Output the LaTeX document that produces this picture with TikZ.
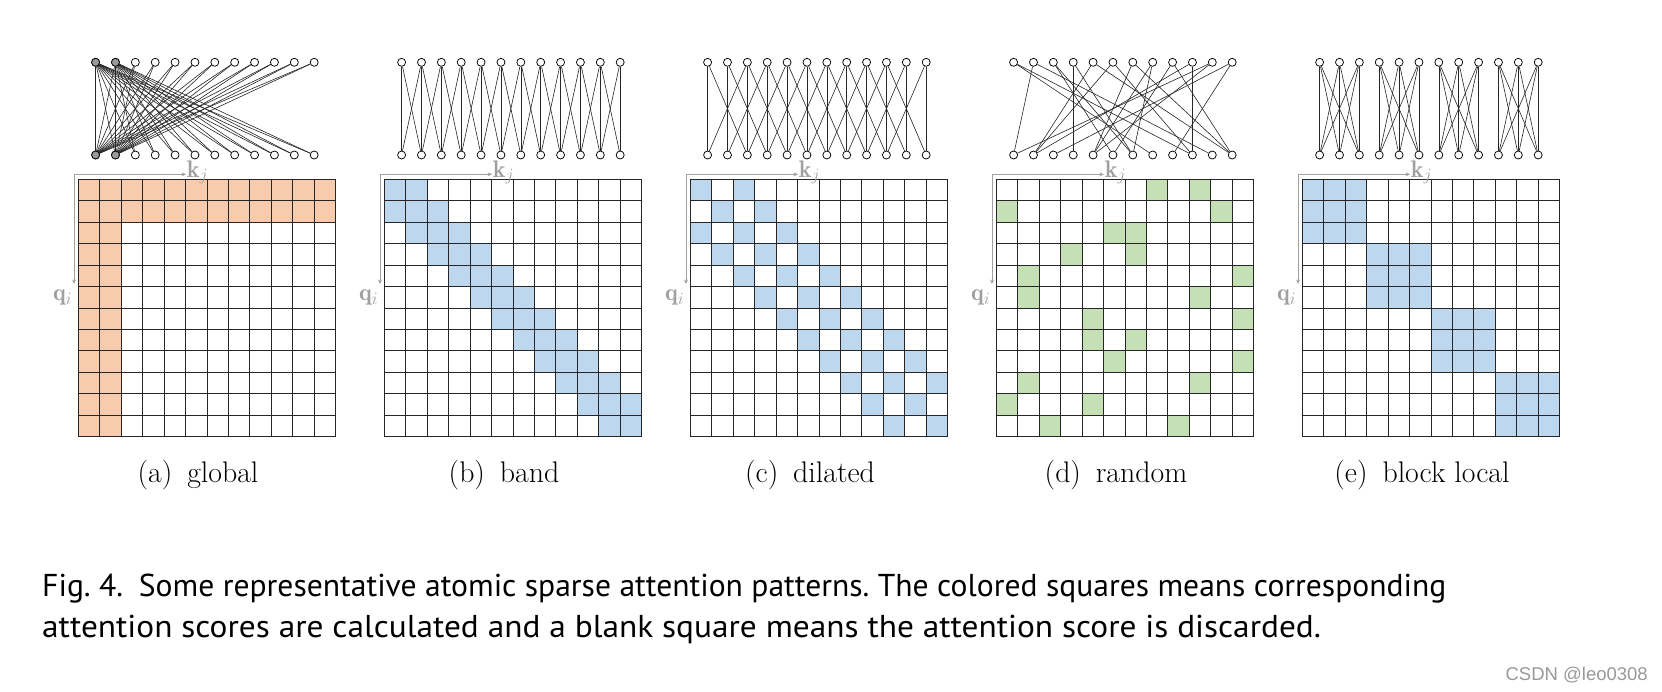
\documentclass[tikz,border=0pt]{standalone}
\usepackage{fontspec}
\newfontfamily\capfont{PT Sans}
\newfontfamily\wmfont{Liberation Sans}
\usetikzlibrary{arrows.meta}
\definecolor{gorange}{HTML}{F8CBAD}
\definecolor{gblue}{HTML}{BDD7EE}
\definecolor{ggreen}{HTML}{C5E0B4}
\definecolor{axgray}{HTML}{A0A0A0}
\definecolor{gnode}{HTML}{9A9A9A}
\def\cs{21.45}
\def\gy{179.3}
\def\ns{19.87}
\tikzset{
  tok/.style={circle,draw=black,fill=white,line width=0.75pt,minimum size=8pt,inner sep=0pt},
  gtok/.style={tok,fill=gnode},
  edge/.style={line width=0.6pt,black!85},
  gline/.style={line width=0.9pt,black!85},
  axis/.style={line width=0.85pt,axgray,-{Stealth[length=4.5pt,width=4pt]}},
  axlab/.style={text=axgray,inner sep=0pt,font=\fontsize{24}{28}\selectfont},
  sublab/.style={inner sep=0pt,font=\fontsize{29.8}{34}\selectfont},
  caplab/.style={inner sep=0pt,font=\capfont\fontsize{31.6}{37}\selectfont\frenchspacing},
}
\newcommand\mknodes[2]{% name, x0
  \foreach \k in {1,...,12}{
    \node[tok] (#1t\k) at ({#2+17.3+(\k-1)*\ns},62.3) {};
    \node[tok] (#1b\k) at ({#2+17.3+(\k-1)*\ns},155) {};
  }
}
\newcommand\cellfill[4]{% x0,i,j,color
  \fill[#4] ({#1+(#3-1)*\cs},{\gy+(#2-1)*\cs}) rectangle ++(\cs,\cs);
}
\newcommand\link[3]{\draw[edge] (#1t#2) -- (#1b#3);}
\newcommand\mkgrid[3]{% name, x0, caption
  \foreach \k in {0,...,12}{
    \draw[gline] ({#2+\k*\cs},\gy) -- ({#2+\k*\cs},{\gy+12*\cs});
    \draw[gline] (#2,{\gy+\k*\cs}) -- ({#2+12*\cs},{\gy+\k*\cs});
  }
  \coordinate (#1o) at ({#2-4.3},174.3);
  \coordinate (#1kx) at ({#2+107.7},174.3);
  \coordinate (#1qy) at ({#2-4.3},284);
  \draw[axis] (#1o) -- (#1kx);
  \draw[axis] (#1o) -- (#1qy);
  \node[axlab,anchor=base west] (#1kl) at ({#2+108.4},177) {$\mathbf{k}_j$};
  \node[axlab,anchor=base east] (#1ql) at ({#2-6},300.5) {$\mathbf{q}_i$};
  \node[sublab,anchor=base] (#1cap) at ({#2+128.7-9},482.5) {#3};
}
\newcommand\condpanel[4]{% name, x0, color, condition
  \mknodes{#1}{#2}
  \foreach \i in {1,...,12}{\foreach \j in {1,...,12}{
    \pgfmathtruncatemacro\ok{#4}
    \ifnum\ok=1 \cellfill{#2}{\i}{\j}{#3}\link{#1}{\i}{\j}\fi
  }}
}
\begin{document}
\begin{tikzpicture}[x=1pt,y=-1pt]
\useasboundingbox[fill=white] (0,0) rectangle (1662,691);
% (a) global
\condpanel{a}{78.3}{gorange}{(\i<3)||(\j<3)}
\foreach \k in {1,2}{\node[gtok] at (at\k) {};\node[gtok] at (ab\k) {};}
\mkgrid{a}{78.3}{(a)\hspace{0.5em}global}
% (b) band
\condpanel{b}{384.3}{gblue}{abs(\i-\j)<2}
\mkgrid{b}{384.3}{(b)\hspace{0.5em}band}
% (c) dilated
\condpanel{c}{690.3}{gblue}{(\i==\j)||(abs(\i-\j)==2)}
\mkgrid{c}{690.3}{(c)\hspace{0.5em}dilated}
% (d) random
\mknodes{d}{996.3}
\foreach \i/\j in {1/8,1/10,2/1,2/11,3/6,3/7,4/4,4/7,5/2,5/12,6/2,6/10,7/5,7/12,8/5,8/7,9/6,9/12,10/2,10/10,11/1,11/5,12/3,12/9}{
  \cellfill{996.3}{\i}{\j}{ggreen}\link{d}{\i}{\j}
}
\mkgrid{d}{996.3}{(d)\hspace{0.5em}random}
% (e) block local
\condpanel{e}{1302.3}{gblue}{int((\i-1)/3)==int((\j-1)/3)}
\mkgrid{e}{1302.3}{(e)\hspace{0.5em}block local}
% caption
\node[caplab,anchor=base west] (cap1) at (42,596) {Fig. 4.\hspace{0.5em}Some representative atomic sparse attention patterns. The colored squares means corresponding};
\node[caplab,anchor=base west] (cap2) at (42,637) {\scalebox{1.055}[1]{attention scores are calculated and a blank square means the attention score is discarded.}};
\node[inner sep=0pt,anchor=base east,text=gray!80,font=\wmfont\fontsize{18.5}{22}\selectfont] (wm) at (1648,680) {CSDN @leo0308};
\end{tikzpicture}
\end{document}
